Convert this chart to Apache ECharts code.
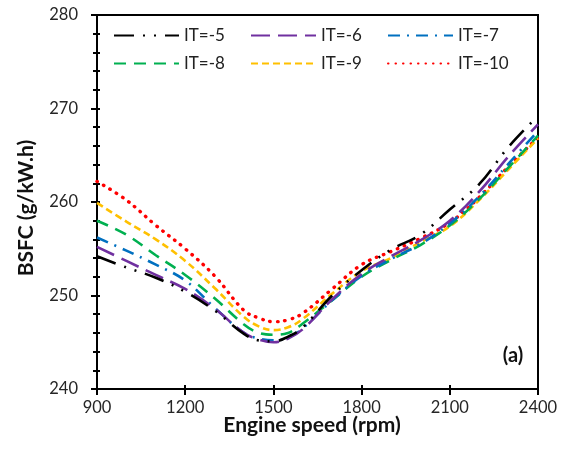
<!DOCTYPE html>
<html>
<head>
<meta charset="utf-8">
<script src="https://cdn.jsdelivr.net/npm/echarts@6/dist/echarts.min.js"></script>
<style>
html,body{margin:0;padding:0;background:#fff;}
#chart{width:570px;height:462px;}
</style>
</head>
<body>
<div id="chart"></div>
<script>
const speeds = [900,1000,1100,1200,1300,1400,1450,1500,1550,1600,1700,1800,1900,2000,2100,2200,2300,2400];
const it5  = [254.2,253.0,251.9,250.4,248.4,245.9,245.2,245.1,245.6,246.6,250.0,252.7,254.9,256.5,259.2,261.9,265.9,269.2];
const it6  = [255.2,253.7,252.2,250.7,248.6,246.0,245.3,245.0,245.4,246.4,249.6,252.3,254.2,255.9,258.0,261.1,264.9,268.3];
const it7  = [256.2,254.8,253.3,251.6,248.7,246.0,245.4,245.2,245.5,246.5,249.5,252.1,253.9,255.5,257.7,260.6,264.1,267.6];
const it8  = [258.0,256.5,254.3,252.2,249.7,246.9,246.0,245.8,246.0,247.0,249.5,252.0,253.8,255.4,257.5,260.3,263.7,267.1];
const it9  = [259.9,257.9,256.0,253.7,250.8,247.7,246.7,246.3,246.6,247.5,250.2,252.6,254.0,255.7,257.4,260.2,263.5,266.8];
const it10 = [262.2,260.2,257.5,255.0,252.1,248.4,247.6,247.2,247.4,248.1,250.7,253.3,254.7,256.1,257.8,260.5,263.8,266.9];
const seriesNames = ['IT=-5','IT=-6','IT=-7','IT=-8','IT=-9','IT=-10'];
const xTicks = [900,1200,1500,1800,2100,2400];
const yTicks = [240,250,260,270,280];

const styles = [
  {color:'#000000', type:[20,9,2,9,2,9], cap:'butt', width:2.6},
  {color:'#7030A0', type:[19,8], cap:'butt', width:2.6},
  {color:'#0070C0', type:[12,7,2,7], cap:'butt', width:2.6},
  {color:'#00B050', type:[12,8], cap:'butt', width:2.6},
  {color:'#FFC000', type:[7,4], cap:'butt', width:2.6},
  {color:'#FF0000', type:[0.5,7], cap:'round', width:3.4}
];
const allData = [it5,it6,it7,it8,it9,it10];

const series = allData.map((arr,i)=>({
  name: seriesNames[i],
  type:'line',
  smooth:0.4,
  showSymbol:false,
  symbol:'none',
  xAxisIndex:0, yAxisIndex:0,
  data: speeds.map((s,j)=>[s,arr[j]]),
  lineStyle:{color:styles[i].color, type:styles[i].type, width:styles[i].width, cap:styles[i].cap},
  itemStyle:{color:styles[i].color},
  z: 10 - i
}));

const font = 'Lato';
function mkLegend(left, names){
  return {orient:'vertical', left:left, top:27, padding:0, itemWidth:65, itemHeight:14, itemGap:11,
    data:names.map(n=>({name:n})),
    itemStyle:{color:'rgba(0,0,0,0)', borderColor:'rgba(0,0,0,0)', borderWidth:0, opacity:0},
    textStyle:{fontFamily:font, fontSize:17, color:'#222'}};
}

const chart = echarts.init(document.getElementById('chart'), null, {renderer:'canvas'});
chart.setOption({
  animation:false,
  backgroundColor:'#fff',
  grid:{left:97, right:32, top:15, bottom:73, show:true, borderColor:'#000', borderWidth:2, backgroundColor:'transparent'},
  legend:[mkLegend(113,['IT=-5','IT=-8']), mkLegend(250,['IT=-6','IT=-9']), mkLegend(387,['IT=-7','IT=-10'])],
  xAxis:[
    {type:'value', min:900, max:2400, interval:300, position:'bottom',
     axisLine:{lineStyle:{color:'#000', width:2}},
     axisTick:{show:true, inside:false, length:6, lineStyle:{color:'#000', width:2}},
     axisLabel:{fontFamily:font, fontSize:16.5, color:'#262626', margin:10,
       formatter:v=>xTicks.includes(v)?String(v):''},
     splitLine:{show:false}},
    {type:'value', min:900, max:2400, interval:300, position:'bottom', gridIndex:0,
     axisLine:{show:false},
     axisTick:{show:true, inside:true, length:4, lineStyle:{color:'#000', width:2}},
     axisLabel:{show:false}, splitLine:{show:false}}
  ],
  yAxis:[
    {type:'value', min:240, max:280, interval:10, position:'left',
     axisLine:{show:true, lineStyle:{color:'#000', width:2}},
     axisTick:{show:true, inside:false, length:6, lineStyle:{color:'#000', width:2}},
     minorTick:{show:true, splitNumber:5, length:4, lineStyle:{color:'#000', width:2}},
     axisLabel:{fontFamily:font, fontSize:16.5, color:'#262626', margin:19,
       formatter:v=>yTicks.includes(v)?String(v):''},
     splitLine:{show:false}},
    {type:'value', min:240, max:280, interval:10, position:'left', gridIndex:0,
     axisLine:{show:false},
     axisTick:{show:true, inside:true, length:3, lineStyle:{color:'#000', width:2}},
     minorTick:{show:true, splitNumber:5, length:3, lineStyle:{color:'#000', width:2}},
     axisLabel:{show:false}, splitLine:{show:false}}
  ],
  graphic:[
    {type:'text', x:312, y:425, style:{text:'Engine speed (rpm)', fontFamily:font, fontWeight:'bold', fontSize:21, fill:'#111', textAlign:'center', textVerticalAlign:'middle'}},
    {type:'text', x:26, y:208, rotation:Math.PI/2, style:{text:'BSFC (g/kW.h)', fontFamily:font, fontWeight:'bold', fontSize:21, fill:'#111', textAlign:'center', textVerticalAlign:'middle'}},
    {type:'text', x:513, y:356, style:{text:'(a)', fontFamily:font, fontWeight:'bold', fontSize:20, fill:'#111', textAlign:'center', textVerticalAlign:'middle'}}
  ],
  series: series
});
</script>
</body>
</html>
